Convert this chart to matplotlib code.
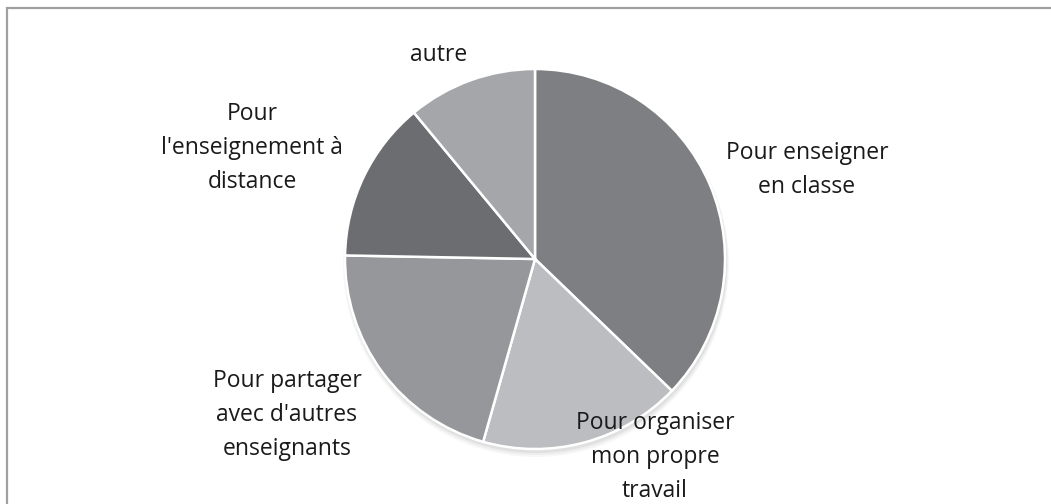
import matplotlib
matplotlib.use('Agg')
import matplotlib.pyplot as plt
from matplotlib.patches import Rectangle, Circle

# slices clockwise from 12 o'clock
labels = ['Pour enseigner\nen classe',
          'Pour organiser\nmon propre\ntravail',
          "Pour partager\navec d'autres\nenseignants",
          "Pour\nl'enseignement à\ndistance",
          'autre']
values = [37.2, 17.2, 20.9, 13.7, 11.0]
colors = ['#7e7f83', '#bcbdc0', '#96979a', '#6c6d71', '#a5a6a9']

# label anchor points in pixel space (x, y from top)
label_pos = [(807, 170), (655, 457), (287, 415), (252, 148), (439, 55)]

W, H = 1051, 504
fig = plt.figure(figsize=(W / 100, H / 100), dpi=100)
ax = fig.add_axes([0, 0, 1, 1])
ax.set_xlim(0, W)
ax.set_ylim(0, H)
ax.set_aspect('equal')
ax.axis('off')

cx, cy, r = 535, H - 259, 190

# soft shadow under the pie
for i, a in enumerate([0.05, 0.04, 0.03]):
    ax.add_patch(Circle((cx + 1, cy - 3 - i), r + 1 + i, color='black', alpha=a, lw=0, zorder=0))

ax.pie(values, colors=colors, startangle=90, counterclock=False,
       center=(cx, cy), radius=r,
       wedgeprops=dict(edgecolor='white', linewidth=1.8))
ax.set_xlim(0, W)
ax.set_ylim(0, H)
ax.axis('off')

for lab, (x, y) in zip(labels, label_pos):
    ax.text(x, H - y, lab, ha='center', va='center', fontsize=16.5,
            family='Open Sans', color='#1a1a1a', linespacing=1.55, zorder=5)

# chart frame (only top/left visible in crop)
ax.add_patch(Rectangle((6.5, -20), W, H - 8 + 20, fill=False, edgecolor='#a0a0a0', lw=1.6, zorder=6))

fig.savefig('out.png', dpi=100)
